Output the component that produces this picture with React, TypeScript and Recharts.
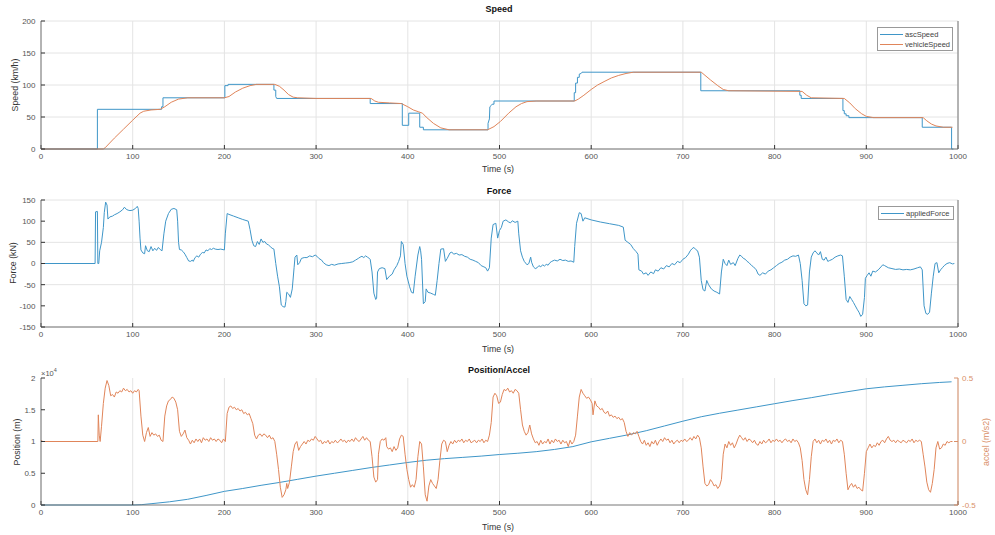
import React from 'react';
import { LineChart, Line, XAxis, YAxis, CartesianGrid } from 'recharts';

// time axis and tick values
const timeTicks = [0, 100, 200, 300, 400, 500, 600, 700, 800, 900, 1000];
const speedTicks = [0, 50, 100, 150, 200];
const forceTicks = [-150, -100, -50, 0, 50, 100, 150];
const positionTicks = [0, 5000, 10000, 15000, 20000];
const accelTicks = [-0.5, 0, 0.5];

// [time (s), value] pairs
const ascSpeed: [number, number][] = [
  [0, 0], [61.5, 0], [61.5, 62], [131.5, 62], [131.5, 66], [133, 66], [133, 80], [200.5, 80],
  [200.5, 99], [204, 99], [204, 101], [254, 101], [254, 92], [256, 92], [256, 82], [257, 79],
  [359, 79], [359, 71], [394, 71], [394, 37], [401, 37], [401, 56], [413, 56], [413, 34],
  [417, 34], [417, 30], [487.5, 30], [487.5, 40], [489, 47], [489.5, 66], [491, 68], [492, 70],
  [494, 70], [494, 75], [581.5, 75], [581.5, 88], [583, 88], [583, 103], [585, 103], [585, 112],
  [587, 112], [587, 117], [589, 118], [590, 120], [719.5, 120], [719.5, 91], [827.5, 91],
  [827.5, 84], [829, 84], [829, 79], [874.5, 79], [874.5, 60], [876, 60], [876, 55], [878, 55],
  [878, 52], [881, 52], [881, 49], [961, 49], [961, 34], [993, 34], [993, 0], [995, 0],
];

const vehicleSpeed: [number, number][] = [
  [0, 0], [68, 0], [70, 2], [80, 17], [90, 31], [100, 45], [108, 56], [112, 59], [120, 61],
  [130, 62], [135, 66], [142, 73], [150, 78], [160, 80], [200, 80], [205, 82], [212, 89],
  [220, 95], [228, 99], [235, 101], [255, 101], [260, 98], [265, 92], [270, 85], [275, 81],
  [280, 80], [300, 79], [360, 79], [364, 75], [368, 73], [380, 72], [393, 71], [400, 66],
  [406, 61], [412, 58], [416, 56], [420, 50], [428, 40], [436, 33], [445, 30], [487, 30],
  [494, 35], [501, 43], [510, 56], [518, 66], [524, 71], [530, 74], [540, 75], [582, 75],
  [586, 78], [592, 84], [600, 93], [607, 100], [615, 106], [622, 111], [630, 115], [638, 118],
  [646, 120], [720, 120], [730, 108], [738, 99], [744, 93], [750, 91], [830, 90], [835, 84],
  [840, 80], [876, 79], [882, 72], [888, 63], [895, 55], [900, 51], [908, 49], [962, 49],
  [966, 44], [971, 39], [976, 36], [984, 34], [994, 34],
];

const appliedForce: [number, number][] = [
  [0, 0], [59, 0], [59.5, 122], [61.5, 123], [62, 0], [63, 0], [64, 30], [66, 50], [68, 85],
  [69, 120], [70.5, 145], [72, 138], [73, 105], [75, 110], [78, 112], [80, 115], [83, 118],
  [86, 122], [89, 127], [91, 133], [93, 128], [95, 126], [97, 125], [100, 126], [103, 130],
  [105, 135], [106, 130], [107, 100], [108, 60], [109, 32], [111, 25], [113, 23], [114, 42],
  [116, 30], [118, 28], [120, 40], [122, 30], [124, 36], [126, 31], [128, 38], [130, 33],
  [132, 30], [134, 70], [136, 100], [139, 118], [142, 128], [145, 130], [148, 127], [149, 100],
  [150, 50], [151, 33], [153, 32], [155, 28], [157, 22], [159, 14], [161, 6], [163, 5],
  [165, 8], [166, 5], [168, 14], [170, 18], [172, 15], [174, 22], [176, 26], [178, 25],
  [180, 32], [182, 30], [184, 35], [186, 33], [188, 36], [190, 34], [193, 33], [196, 34],
  [200, 32], [201, 70], [203, 118], [205, 116], [210, 112], [215, 108], [220, 104], [226, 100],
  [228, 80], [230, 55], [232, 42], [234, 40], [236, 52], [238, 45], [240, 58], [242, 50],
  [244, 52], [246, 46], [248, 44], [250, 40], [252, 36], [254, 34], [256, 0], [258, -30],
  [260, -55], [262, -98], [264, -102], [266, -103], [267, -90], [268, -68], [270, -72],
  [272, -80], [274, -60], [276, -10], [277, 15], [279, 20], [280, -3], [282, 2], [284, 12],
  [287, 14], [290, 14], [293, 18], [296, 16], [299, 20], [301, 17], [303, 12], [306, 8],
  [308, 2], [311, -3], [314, -5], [317, -2], [320, -4], [324, -1], [328, 0], [332, 1],
  [336, 2], [340, 4], [343, 8], [346, 12], [348, 15], [350, 17], [352, 14], [354, 18],
  [356, 15], [358, 12], [359, 10], [361, -20], [363, -70], [365, -85], [366, -82], [367, -20],
  [369, -12], [372, -10], [375, -12], [377, -38], [380, -30], [383, -25], [385, -15],
  [388, -5], [390, 5], [392, 18], [393, 52], [395, 45], [397, 0], [399, -30], [402, -55],
  [404, -68], [406, -70], [408, -30], [411, 20], [413, 40], [414, 30], [415, 10], [417, -95],
  [419, -90], [420, -60], [422, -68], [425, -70], [428, -73], [430, -75], [432, -40], [434, 0],
  [436, 34], [439, 35], [441, 5], [443, 12], [446, 25], [448, 27], [450, 22], [453, 24],
  [456, 20], [459, 21], [462, 17], [465, 15], [468, 10], [471, 8], [474, 5], [477, 2],
  [480, -5], [483, -8], [485, -10], [487, -18], [489, -10], [491, 60], [493, 92], [496, 95],
  [498, 60], [500, 78], [502, 85], [504, 100], [507, 103], [510, 98], [512, 96], [514, 101],
  [517, 97], [520, 100], [521, 70], [523, 30], [525, 15], [527, 5], [530, -3], [532, 0],
  [534, 15], [535, 3], [537, -8], [539, -12], [541, -10], [543, -5], [545, -8], [547, -3],
  [549, -6], [551, -2], [553, -4], [555, 2], [557, 5], [560, 8], [563, 6], [566, 10],
  [569, 7], [572, 8], [575, 5], [578, 6], [581, 3], [582, 40], [584, 95], [587, 120],
  [589, 118], [591, 100], [593, 108], [600, 103], [610, 98], [620, 94], [630, 90], [635, 86],
  [637, 55], [640, 50], [643, 45], [646, 35], [649, 28], [651, 22], [652, -15], [655, -18],
  [657, -25], [660, -22], [662, -28], [665, -20], [668, -24], [670, -15], [673, -18],
  [676, -10], [679, -13], [682, -5], [685, -8], [688, 0], [691, -3], [694, 5], [697, 2],
  [700, 10], [703, 14], [706, 22], [708, 30], [710, 35], [712, 38], [714, 33], [716, 30],
  [718, 15], [720, -40], [722, -62], [724, -65], [726, -40], [728, -50], [731, -60],
  [734, -65], [737, -68], [740, -72], [742, -20], [744, 10], [746, 0], [748, -5], [750, 8],
  [752, -2], [755, 2], [757, -5], [760, 12], [762, 20], [764, 17], [766, 12], [768, 10],
  [770, 5], [772, 2], [775, -5], [777, -8], [780, -15], [782, -25], [784, -28], [787, -22],
  [790, -25], [793, -18], [796, -15], [799, -10], [802, -5], [805, 0], [808, 3], [811, 8],
  [814, 10], [817, 15], [820, 18], [823, 17], [826, 20], [828, 0], [830, -40], [832, -95],
  [834, -100], [836, -98], [838, -20], [840, 15], [842, 25], [844, 30], [846, 25], [848, 20],
  [850, 28], [852, 10], [854, 8], [856, 15], [858, 5], [860, 7], [863, 10], [866, 15],
  [869, 18], [872, 20], [874, 18], [876, -30], [878, -85], [880, -92], [882, -78], [884, -85],
  [886, -92], [888, -100], [890, -108], [892, -115], [894, -125], [896, -120], [898, -80],
  [899, -35], [901, -28], [903, -22], [905, -30], [907, -18], [910, -20], [913, -15],
  [916, -8], [918, -3], [920, -5], [924, -10], [928, -12], [932, -14], [936, -13], [940, -15],
  [944, -14], [948, -15], [952, -13], [956, -10], [959, -8], [961, -15], [963, -100],
  [965, -118], [967, -120], [969, -115], [971, -70], [973, -30], [975, 0], [977, 2],
  [979, -22], [981, -15], [983, -10], [985, -5], [988, 0], [991, 2], [994, -1], [996, 0],
];

const position: [number, number][] = [
  [0, 0], [100, 0], [110, 60], [120, 200], [140, 500], [160, 900], [180, 1500], [200, 2150],
  [220, 2600], [240, 3100], [260, 3550], [280, 4050], [300, 4550], [320, 5000], [340, 5450],
  [360, 5900], [380, 6300], [400, 6700], [420, 7050], [440, 7300], [460, 7500], [480, 7700],
  [500, 7950], [520, 8150], [540, 8400], [560, 8750], [580, 9200], [600, 9950], [620, 10500],
  [640, 11050], [660, 11700], [680, 12450], [700, 13200], [720, 13900], [740, 14450],
  [760, 14950], [780, 15450], [800, 15950], [820, 16450], [840, 16900], [860, 17400],
  [880, 17850], [900, 18300], [920, 18600], [940, 18850], [960, 19100], [980, 19300],
  [993, 19400],
];

const accel: [number, number][] = [
  [0, 0.01], [2, 0], [62, 0], [62.5, 0.21], [63.5, 0.05], [64.5, 0], [66, 0.12], [68, 0.3],
  [70, 0.42], [72, 0.48], [74, 0.44], [76, 0.36], [78, 0.37], [80, 0.35], [82, 0.39],
  [84, 0.38], [86, 0.4], [88, 0.39], [90, 0.42], [92, 0.4], [94, 0.41], [96, 0.39], [98, 0.4],
  [100, 0.38], [102, 0.4], [104, 0.39], [106, 0.41], [107, 0.4], [109, 0.2], [111, 0.05],
  [113, 0.0], [115, 0.07], [117, 0.11], [119, 0.04], [121, 0.07], [123, 0.05], [125, 0.06],
  [127, 0.04], [129, 0.05], [131, 0.01], [133, 0.0], [135, 0.2], [137, 0.28], [139, 0.32],
  [141, 0.33], [143, 0.35], [145, 0.34], [147, 0.31], [149, 0.25], [151, 0.08], [153, 0.04],
  [155, 0.06], [157, 0.09], [159, 0.03], [161, 0.01], [163, -0.02], [165, 0.01], [167, -0.01],
  [169, 0.02], [171, 0.0], [173, 0.02], [175, -0.01], [177, 0.03], [179, 0.01], [181, 0.02],
  [183, 0.0], [185, 0.03], [187, 0.01], [189, 0.02], [191, 0.0], [193, 0.02], [195, 0.01],
  [197, -0.01], [199, 0.02], [201, 0.0], [203, 0.22], [205, 0.27], [207, 0.28], [209, 0.26],
  [211, 0.27], [213, 0.25], [215, 0.26], [217, 0.24], [219, 0.25], [221, 0.22], [223, 0.23],
  [225, 0.21], [227, 0.22], [229, 0.18], [231, 0.14], [233, 0.05], [235, 0.02], [237, 0.05],
  [239, 0.06], [241, 0.04], [243, 0.06], [245, 0.05], [247, 0.03], [249, 0.05], [251, 0.02],
  [253, 0.03], [255, 0.0], [257, -0.1], [259, -0.22], [261, -0.36], [263, -0.44], [265, -0.42],
  [267, -0.38], [268, -0.33], [269, -0.37], [271, -0.32], [273, -0.2], [275, -0.08],
  [277, -0.02], [279, 0.0], [281, -0.07], [283, -0.04], [285, -0.02], [287, 0.0], [289, -0.02],
  [291, 0.01], [293, 0.0], [295, 0.02], [297, 0.01], [299, 0.04], [301, 0.02], [303, 0.0],
  [305, 0.01], [307, -0.02], [309, 0.0], [311, -0.01], [313, 0.01], [315, -0.02], [317, 0.0],
  [319, -0.01], [321, 0.01], [323, -0.01], [325, 0.0], [327, 0.02], [329, 0.0], [331, 0.01],
  [333, -0.01], [335, 0.01], [337, 0.0], [339, 0.02], [341, 0.0], [343, 0.03], [345, 0.01],
  [347, 0.0], [349, 0.02], [351, 0.04], [353, 0.01], [355, 0.03], [357, 0.01], [359, 0.0],
  [361, -0.12], [363, -0.28], [365, -0.32], [367, -0.3], [368, -0.1], [370, 0.0], [372, 0.02],
  [374, 0.01], [376, 0.03], [377, -0.04], [379, -0.06], [381, -0.05], [383, -0.08],
  [385, -0.04], [387, -0.07], [389, -0.05], [391, 0.02], [393, 0.05], [395, 0.04], [397, -0.1],
  [399, -0.22], [401, -0.3], [403, -0.36], [405, -0.34], [407, -0.36], [409, -0.3],
  [411, -0.12], [413, 0.0], [415, -0.02], [417, -0.2], [419, -0.42], [421, -0.47],
  [423, -0.35], [425, -0.3], [427, -0.33], [429, -0.35], [431, -0.37], [433, -0.3],
  [435, -0.15], [437, -0.02], [439, 0.01], [441, 0.0], [443, -0.08], [445, -0.03], [447, 0.0],
  [449, -0.02], [451, 0.01], [453, -0.01], [455, 0.01], [457, 0.0], [459, 0.02], [461, -0.01],
  [463, 0.01], [465, 0.0], [467, 0.02], [469, -0.01], [471, 0.0], [473, 0.01], [475, -0.01],
  [477, 0.01], [479, 0.0], [481, 0.02], [483, -0.01], [485, 0.01], [487, 0.0], [489, 0.05],
  [491, 0.15], [493, 0.35], [495, 0.38], [497, 0.36], [499, 0.3], [501, 0.31], [503, 0.37],
  [505, 0.41], [507, 0.4], [509, 0.42], [511, 0.39], [513, 0.4], [515, 0.38], [517, 0.41],
  [519, 0.4], [521, 0.38], [523, 0.25], [525, 0.13], [527, 0.08], [529, 0.05], [531, 0.07],
  [533, 0.13], [535, 0.06], [537, 0.02], [539, -0.01], [541, 0.0], [543, -0.03], [545, 0.01],
  [547, -0.02], [549, 0.0], [551, -0.01], [553, 0.02], [555, -0.02], [557, 0.01], [559, -0.01],
  [561, 0.02], [563, 0.0], [565, 0.01], [567, -0.02], [569, 0.01], [571, -0.01], [573, 0.0],
  [575, -0.04], [577, 0.01], [579, -0.02], [581, 0.0], [583, 0.05], [585, 0.2], [587, 0.35],
  [589, 0.41], [591, 0.38], [593, 0.36], [595, 0.34], [597, 0.35], [599, 0.33], [601, 0.3],
  [602, 0.21], [604, 0.32], [606, 0.28], [608, 0.27], [610, 0.25], [612, 0.26], [614, 0.23],
  [616, 0.22], [618, 0.24], [620, 0.2], [622, 0.21], [624, 0.19], [626, 0.2], [628, 0.18],
  [630, 0.19], [632, 0.17], [634, 0.18], [636, 0.15], [638, 0.08], [640, 0.04], [642, 0.07],
  [644, 0.05], [646, 0.07], [648, 0.06], [650, 0.08], [652, 0.04], [654, 0.0], [656, -0.02],
  [658, 0.01], [660, -0.03], [662, -0.01], [664, -0.04], [666, 0.0], [668, -0.02], [670, 0.01],
  [672, -0.03], [674, 0.0], [676, 0.02], [678, 0.0], [680, 0.03], [682, 0.01], [684, 0.02],
  [686, -0.01], [688, 0.01], [690, -0.02], [692, 0.0], [694, 0.01], [696, -0.01], [698, 0.01],
  [700, 0.0], [702, 0.02], [704, 0.0], [706, 0.01], [708, 0.03], [710, 0.01], [712, 0.04],
  [714, 0.02], [716, 0.05], [718, 0.03], [720, -0.05], [722, -0.2], [724, -0.33], [726, -0.35],
  [728, -0.34], [730, -0.3], [732, -0.32], [734, -0.35], [736, -0.34], [738, -0.37],
  [740, -0.35], [742, -0.3], [744, -0.1], [746, -0.02], [748, -0.05], [750, 0.0], [752, -0.03],
  [754, -0.01], [756, -0.05], [758, -0.02], [760, 0.02], [762, 0.05], [764, 0.03], [766, 0.01],
  [768, 0.03], [770, 0.0], [772, 0.02], [774, 0.01], [776, -0.01], [778, 0.01], [780, -0.02],
  [782, -0.03], [784, 0.0], [786, -0.02], [788, 0.01], [790, -0.01], [792, 0.0], [794, 0.02],
  [796, -0.01], [798, 0.01], [800, 0.0], [802, 0.02], [804, 0.0], [806, 0.01], [808, -0.01],
  [810, 0.01], [812, 0.02], [814, 0.0], [816, 0.01], [818, -0.01], [820, 0.02], [822, 0.0],
  [824, 0.01], [826, -0.01], [828, -0.05], [830, -0.15], [832, -0.3], [834, -0.38],
  [836, -0.42], [838, -0.3], [840, -0.12], [842, 0.0], [844, 0.02], [846, -0.01], [848, 0.01],
  [850, -0.02], [852, 0.01], [854, 0.0], [856, 0.02], [858, -0.01], [860, 0.01], [862, -0.02],
  [864, 0.01], [866, 0.0], [868, 0.02], [870, -0.01], [872, 0.01], [874, 0.0], [876, -0.1],
  [878, -0.25], [880, -0.38], [882, -0.35], [884, -0.33], [886, -0.36], [888, -0.34],
  [890, -0.37], [892, -0.36], [894, -0.38], [896, -0.39], [898, -0.25], [900, -0.08],
  [902, -0.05], [904, -0.02], [906, -0.05], [908, -0.03], [910, -0.04], [912, -0.01],
  [914, -0.03], [916, 0.0], [918, 0.01], [920, -0.01], [922, 0.02], [924, 0.04], [926, 0.01],
  [928, 0.0], [930, 0.01], [932, -0.01], [934, 0.01], [936, 0.0], [938, -0.01], [940, 0.01],
  [942, 0.0], [944, -0.01], [946, 0.01], [948, 0.0], [950, 0.02], [952, -0.01], [954, 0.01],
  [956, 0.0], [958, 0.01], [960, 0.0], [962, -0.1], [964, -0.2], [966, -0.32], [968, -0.38],
  [970, -0.4], [972, -0.33], [974, -0.22], [976, -0.05], [978, 0.0], [980, -0.06],
  [982, -0.05], [984, -0.02], [986, -0.03], [988, 0.0], [990, -0.01], [992, 0.0], [994, 0.0],
];

const BLUE = '#3f96c8';
const ORANGE = '#e0855a';
const ACCEL_AXIS = '#d98f68';
const FONT = '"Liberation Sans", Arial, sans-serif';
const tickStyle = { fill: '#555', fontSize: 8, fontFamily: FONT };
const boxStroke = '#777';
const tickStroke = '#333';

const rows = (s: [number, number][]) => s.map(([t, v]) => ({ t, v }));

const abs = (x: number, y: number, extra: React.CSSProperties = {}): React.CSSProperties => ({
  position: 'absolute',
  left: x,
  top: y,
  transform: 'translate(-50%, -50%)',
  whiteSpace: 'nowrap',
  fontFamily: FONT,
  color: '#333',
  ...extra,
});

function timeAxes() {
  return [
    <XAxis
      key="xb"
      dataKey="t"
      type="number"
      domain={[0, 1000]}
      ticks={timeTicks}
      allowDataOverflow
      height={21}
      tick={tickStyle}
      tickSize={-4}
      tickMargin={8}
      axisLine={{ stroke: boxStroke }}
      tickLine={{ stroke: tickStroke }}
    />,
    <XAxis
      key="xt"
      xAxisId="top"
      orientation="top"
      dataKey="t"
      type="number"
      domain={[0, 1000]}
      ticks={timeTicks}
      allowDataOverflow
      height={0}
      tick={false}
      tickSize={-4}
      axisLine={{ stroke: boxStroke }}
      tickLine={{ stroke: tickStroke }}
    />,
  ];
}

function Legend({ x, y, items }: { x: number; y: number; items: { label: string; color: string }[] }) {
  return (
    <div
      style={{
        position: 'absolute',
        left: x,
        top: y,
        width: 74,
        border: '1px solid #999',
        background: '#fff',
        padding: '1px 0',
        fontFamily: FONT,
        fontSize: 7.5,
        color: '#444',
      }}
    >
      {items.map((it) => (
        <div key={it.label} style={{ display: 'flex', alignItems: 'center', height: 10 }}>
          <span style={{ display: 'inline-block', width: 23, height: 1, background: it.color, margin: '0 2px 0 2px' }} />
          <span>{it.label}</span>
        </div>
      ))}
    </div>
  );
}

export default function App() {
  return (
    <div style={{ position: 'absolute', left: 0, top: 0, width: 995, height: 535, background: '#fff', overflow: 'hidden' }}>
      {/* Speed */}
      <div style={{ position: 'absolute', left: 0, top: 0 }}>
        <LineChart width={995} height={170} margin={{ top: 21, right: 0, bottom: 0, left: 0 }}>
          <CartesianGrid stroke="#e4e4e4" horizontalValues={speedTicks} verticalValues={timeTicks} />
          {timeAxes()}
          <YAxis
            type="number"
            domain={[0, 200]}
            ticks={speedTicks}
            width={41}
            tick={tickStyle}
            tickSize={-4}
            tickMargin={9.5}
            axisLine={{ stroke: boxStroke }}
            tickLine={{ stroke: tickStroke }}
          />
          <YAxis
            yAxisId="right"
            orientation="right"
            type="number"
            domain={[0, 200]}
            ticks={speedTicks}
            width={37}
            tick={false}
            tickSize={-4}
            axisLine={{ stroke: boxStroke }}
            tickLine={{ stroke: tickStroke }}
          />
          <Line data={rows(ascSpeed)} dataKey="v" stroke={BLUE} strokeWidth={1} dot={false} isAnimationActive={false} />
          <Line data={rows(vehicleSpeed)} dataKey="v" stroke={ORANGE} strokeWidth={1} dot={false} isAnimationActive={false} />
        </LineChart>
      </div>
      <div style={abs(499, 9, { fontSize: 9, fontWeight: 'bold', color: '#111' })}>Speed</div>
      <div style={abs(498, 169, { fontSize: 8.8 })}>Time (s)</div>
      <div style={abs(15, 85, { fontSize: 8.8, transform: 'translate(-50%, -50%) rotate(-90deg)' })}>Speed (km/h)</div>
      <Legend x={877} y={27} items={[{ label: 'ascSpeed', color: BLUE }, { label: 'vehicleSpeed', color: ORANGE }]} />

      {/* Force */}
      <div style={{ position: 'absolute', left: 0, top: 178 }}>
        <LineChart width={995} height={170} margin={{ top: 22, right: 0, bottom: 0, left: 0 }}>
          <CartesianGrid stroke="#e4e4e4" horizontalValues={forceTicks} verticalValues={timeTicks} />
          {timeAxes()}
          <YAxis
            type="number"
            domain={[-150, 150]}
            ticks={forceTicks}
            width={41}
            tick={tickStyle}
            tickSize={-4}
            tickMargin={9.5}
            axisLine={{ stroke: boxStroke }}
            tickLine={{ stroke: tickStroke }}
          />
          <YAxis
            yAxisId="right"
            orientation="right"
            type="number"
            domain={[-150, 150]}
            ticks={forceTicks}
            width={37}
            tick={false}
            tickSize={-4}
            axisLine={{ stroke: boxStroke }}
            tickLine={{ stroke: tickStroke }}
          />
          <Line data={rows(appliedForce)} dataKey="v" stroke={BLUE} strokeWidth={1} dot={false} isAnimationActive={false} />
        </LineChart>
      </div>
      <div style={abs(499, 191, { fontSize: 9, fontWeight: 'bold', color: '#111' })}>Force</div>
      <div style={abs(498, 349, { fontSize: 8.8 })}>Time (s)</div>
      <div style={abs(13, 263, { fontSize: 8.8, transform: 'translate(-50%, -50%) rotate(-90deg)' })}>Force (kN)</div>
      <Legend x={878} y={206} items={[{ label: 'appliedForce', color: BLUE }]} />

      {/* Position / Accel */}
      <div style={{ position: 'absolute', left: 0, top: 356 }}>
        <LineChart width={995} height={170} margin={{ top: 22, right: 0, bottom: 0, left: 0 }}>
          <CartesianGrid stroke="#e4e4e4" horizontalValues={positionTicks} verticalValues={timeTicks} />
          {timeAxes()}
          <YAxis
            yAxisId="pos"
            type="number"
            domain={[0, 20000]}
            ticks={positionTicks}
            tickFormatter={(v: number) => String(v / 10000)}
            width={41}
            tick={tickStyle}
            tickSize={-4}
            tickMargin={9.5}
            axisLine={{ stroke: boxStroke }}
            tickLine={{ stroke: tickStroke }}
          />
          <YAxis
            yAxisId="acc"
            orientation="right"
            type="number"
            domain={[-0.5, 0.5]}
            ticks={accelTicks}
            width={37}
            tick={{ ...tickStyle, fill: ACCEL_AXIS, textAnchor: 'start' }}
            tickSize={-4}
            tickMargin={8}
            axisLine={{ stroke: ACCEL_AXIS }}
            tickLine={{ stroke: ACCEL_AXIS }}
          />
          <Line yAxisId="pos" data={rows(position)} dataKey="v" stroke={BLUE} strokeWidth={1} dot={false} isAnimationActive={false} />
          <Line yAxisId="acc" data={rows(accel)} dataKey="v" stroke={ORANGE} strokeWidth={1} dot={false} isAnimationActive={false} />
        </LineChart>
      </div>
      <div style={abs(499, 370, { fontSize: 9, fontWeight: 'bold', color: '#111' })}>Position/Accel</div>
      <div style={abs(498, 527, { fontSize: 8.8 })}>Time (s)</div>
      <div style={abs(17, 442, { fontSize: 8.8, transform: 'translate(-50%, -50%) rotate(-90deg)' })}>Position (m)</div>
      <div style={abs(986, 442, { fontSize: 8.8, color: ACCEL_AXIS, transform: 'translate(-50%, -50%) rotate(-90deg)' })}>accel (m/s2)</div>
      <div style={{ position: 'absolute', left: 41, top: 367, fontFamily: FONT, fontSize: 7.5, color: '#555' }}>
        ×10<sup style={{ fontSize: 5.5 }}>4</sup>
      </div>
    </div>
  );
}
